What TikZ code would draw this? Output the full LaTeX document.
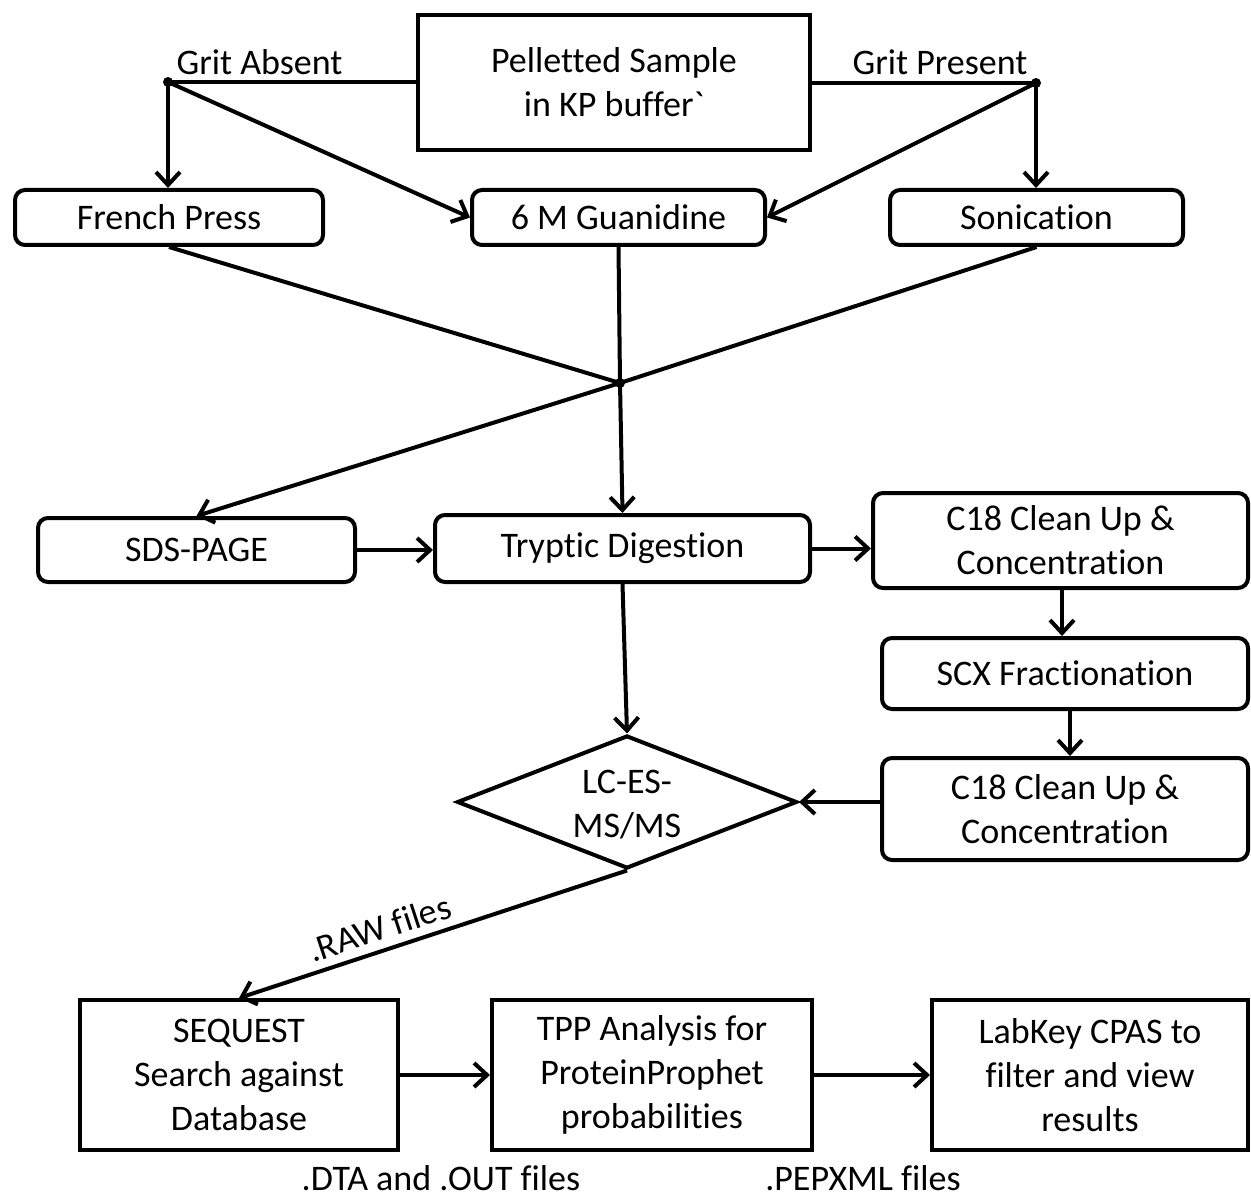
\documentclass[tikz,border=0pt]{standalone}
\usepackage{fontspec}
\setmainfont{Carlito}[Ligatures={NoCommon,NoContextual}]
\usetikzlibrary{arrows.meta,shapes.geometric}
\begin{document}
\begin{tikzpicture}[x=0.5pt,y=-0.5pt,
  every node/.style={font=\fontsize{18}{22}\selectfont, align=center, inner sep=0pt},
  sqbox/.style={draw, line width=2pt, rectangle},
  rbox/.style={draw, line width=2pt, rectangle, rounded corners=5pt},
  conn/.style={line width=2pt},
  arr/.style={line width=2pt, -{Straight Barb[length=6.5pt,width=12pt]}},
  dot/.style={circle, fill, minimum size=5pt, inner sep=0pt}]
\useasboundingbox (0,0) rectangle (1251,1197);

% top
\node[sqbox, minimum width=196pt, minimum height=67.5pt] (top) at (614,82.5) {Pelletted Sample\\in KP buffer\textasciigrave};
\node[dot] (ga) at (168,82) {};
\node[dot] (gp) at (1036,83) {};
\node[anchor=base] (galbl) at (259.5,75) {Grit Absent};
\node[anchor=base] (gplbl) at (940,75) {Grit Present};

% second row
\node[rbox, minimum width=154pt, minimum height=27.5pt] (fp) at (169,217.5) {French Press};
\node[rbox, minimum width=146.5pt, minimum height=27.5pt] (gu) at (618.5,217.5) {6 M Guanidine};
\node[rbox, minimum width=146.5pt, minimum height=27.5pt] (son) at (1036.5,217.5) {Sonication};

\node[dot] (mg) at (620,383) {};

% middle
\node[rbox, minimum width=158.5pt, minimum height=32pt] (sds) at (196.5,550) {SDS-PAGE};
\node[rbox, minimum width=187.5pt, minimum height=33.5pt] (tryp) at (622.5,548.5) {\raisebox{-2pt}{Tryptic Digestion}};
\node[rbox, minimum width=187.5pt, minimum height=47.5pt] (c18a) at (1060.5,540.5) {C18 Clean Up \&\\Concentration};
\node[rbox, minimum width=183pt, minimum height=35.5pt] (scx) at (1065,673.5) {SCX Fractionation};
\node[rbox, minimum width=183pt, minimum height=51pt] (c18b) at (1065,809) {C18 Clean Up \&\\Concentration};
\node[draw, line width=2pt, diamond, minimum width=170pt, minimum height=66.5pt] (dia) at (627,802) {};
\node (dialbl) at (627,805) {LC-ES-\\MS/MS};

% bottom
\node[sqbox, minimum width=159pt, minimum height=75pt] (seq) at (239,1075) {SEQUEST\\Search against\\Database};
\node[sqbox, minimum width=160pt, minimum height=75pt] (tpp) at (652,1075) {TPP Analysis for\\ProteinProphet\\probabilities};
\node[sqbox, minimum width=158pt, minimum height=75pt] (lab) at (1090,1075) {LabKey CPAS to\\filter and view\\results};
\node[anchor=base] (dta) at (441,1190) {.DTA and .OUT files};
\node[anchor=base] (pep) at (863,1190) {.PEPXML files};

% connectors
\draw[conn] (ga.center) -- (top.west |- ga.center);
\draw[conn] (gp.center) -- (top.east |- gp.center);
\draw[arr] (ga.center) -- (fp.north -| ga.center);
\draw[arr] (ga.center) -- (gu.west);
\draw[arr] (gp.center) -- (gu.east);
\draw[arr] (gp.center) -- (son.north -| gp.center);

\draw[conn] (fp.south) -- (mg.center);
\draw[conn] (gu.south) -- (mg.center);
\draw[conn] (son.south) -- (mg.center);
\draw[arr] (mg.center) -- (sds.north);
\draw[arr] (mg.center) -- (tryp.north);

\draw[arr] (sds.east) -- (tryp.west |- sds.east);
\draw[arr] (tryp.east) -- (c18a.west |- tryp.east);
\draw[arr] (tryp.south) -- (dia.north);
\coordinate (ca) at (1062,588);
\coordinate (cb) at (1070,709);
\draw[arr] (ca) -- (ca |- scx.north);
\draw[arr] (cb) -- (cb |- c18b.north);
\draw[arr] (c18b.west |- dia.east) -- (dia.east);

\draw[arr] (dia.south) -- node[sloped, above, pos=0.62, inner sep=4pt] (raw) {.RAW files} (seq.north);
\draw[arr] (seq.east) -- (tpp.west);
\draw[arr] (tpp.east) -- (lab.west);
\end{tikzpicture}
\end{document}
